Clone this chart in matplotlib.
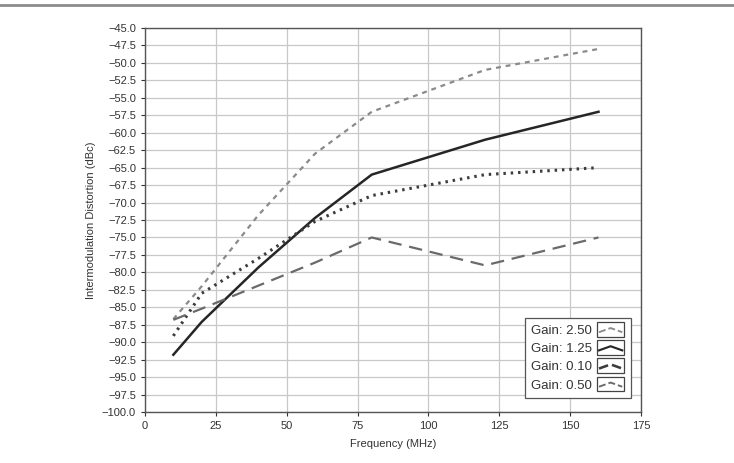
import matplotlib
matplotlib.use("Agg")
import matplotlib.pyplot as plt
from matplotlib.legend_handler import HandlerLine2D
from matplotlib.lines import Line2D
from matplotlib.patches import Rectangle
import numpy as np

plt.rcParams['font.family'] = ['Liberation Sans', 'DejaVu Sans']

freq = [10, 20, 40, 60, 80, 120, 160]
gain_250 = [-86.7, -82.0, -71.8, -63.0, -57.0, -51.0, -48.0]
gain_125 = [-91.8, -87.1, -79.3, -72.2, -66.0, -61.0, -57.0]
gain_010 = [-89.1, -83.0, -78.0, -72.7, -69.0, -66.0, -65.0]
gain_050 = [-86.8, -85.2, -81.9, -78.6, -75.0, -79.0, -75.0]
labels = ["Gain: 2.50", "Gain: 1.25", "Gain: 0.10", "Gain: 0.50"]

x_ticks = [0, 25, 50, 75, 100, 125, 150, 175]
y_ticks = np.arange(-100, -44.9, 2.5)

W, H = 734, 463
fig = plt.figure(figsize=(W / 100, H / 100), dpi=100)
ax = fig.add_axes([145 / W, 1 - 412 / H, (641 - 145) / W, (412 - 28) / H])

styles = [
    dict(color="#8a8a8a", lw=1.6, linestyle=(0, (2.2, 2.2))),
    dict(color="#262626", lw=1.8, linestyle="-"),
    dict(color="#3c3c3c", lw=2.2, linestyle=(0, (0.8, 1.6))),
    dict(color="#6a6a6a", lw=1.6, linestyle=(0, (6, 3.5))),
]
series = [gain_250, gain_125, gain_010, gain_050]
handles = []
for vals, st, lab in zip(series, styles, labels):
    h, = ax.plot(freq, vals, label=lab, **st)
    handles.append(h)

ax.set_xlim(0, 175)
ax.set_ylim(-100, -45)
ax.set_xticks(x_ticks)
ax.set_yticks(y_ticks)
ax.set_yticklabels([f"{v:.1f}".replace("-", "\u2212") for v in y_ticks])
ax.tick_params(labelsize=8, colors="#333333", length=3, width=0.8)
ax.grid(True, color="#c8c8c8", lw=0.9)
ax.set_axisbelow(True)
for s in ax.spines.values():
    s.set_color("#555555")
    s.set_linewidth(1.0)

ax.set_xlabel("Frequency (MHz)", fontsize=8, color="#333333", labelpad=6)
ax.set_ylabel("Intermodulation Distortion (dBc)", fontsize=8, color="#333333", labelpad=4)


class BoxHandler(HandlerLine2D):
    def create_artists(self, legend, orig_handle, xdescent, ydescent, width, height, fontsize, trans):
        rect = Rectangle((-xdescent, -ydescent - 2), width, height + 4, fill=False,
                         edgecolor="#444444", lw=0.9, transform=trans)
        xs = np.array([0.08, 0.5, 0.92]) * width - xdescent
        ys = np.array([0.2, 0.65, 0.2]) * height - ydescent
        ln = Line2D(xs, ys, color=orig_handle.get_color(),
                    lw=orig_handle.get_linewidth() * 0.85,
                    linestyle=orig_handle.get_linestyle(), transform=trans)
        return [rect, ln]


leg = ax.legend(handles=handles, labels=labels, loc="lower right",
                bbox_to_anchor=(0.98, 0.036), borderaxespad=0, fontsize=9.5,
                frameon=True, fancybox=False,
                edgecolor="#555555", framealpha=1, handlelength=2.1, handletextpad=0.35,
                markerfirst=False, borderpad=0.5, labelspacing=0.45,
                handler_map={Line2D: BoxHandler()})
leg.get_frame().set_linewidth(0.9)
for t in leg.get_texts():
    t.set_color("#333333")

fig.add_artist(Line2D([0, 1], [1 - 5 / H, 1 - 5 / H], transform=fig.transFigure,
                      color="#8c8c8c", lw=2))

fig.savefig("out.png", dpi=100)
